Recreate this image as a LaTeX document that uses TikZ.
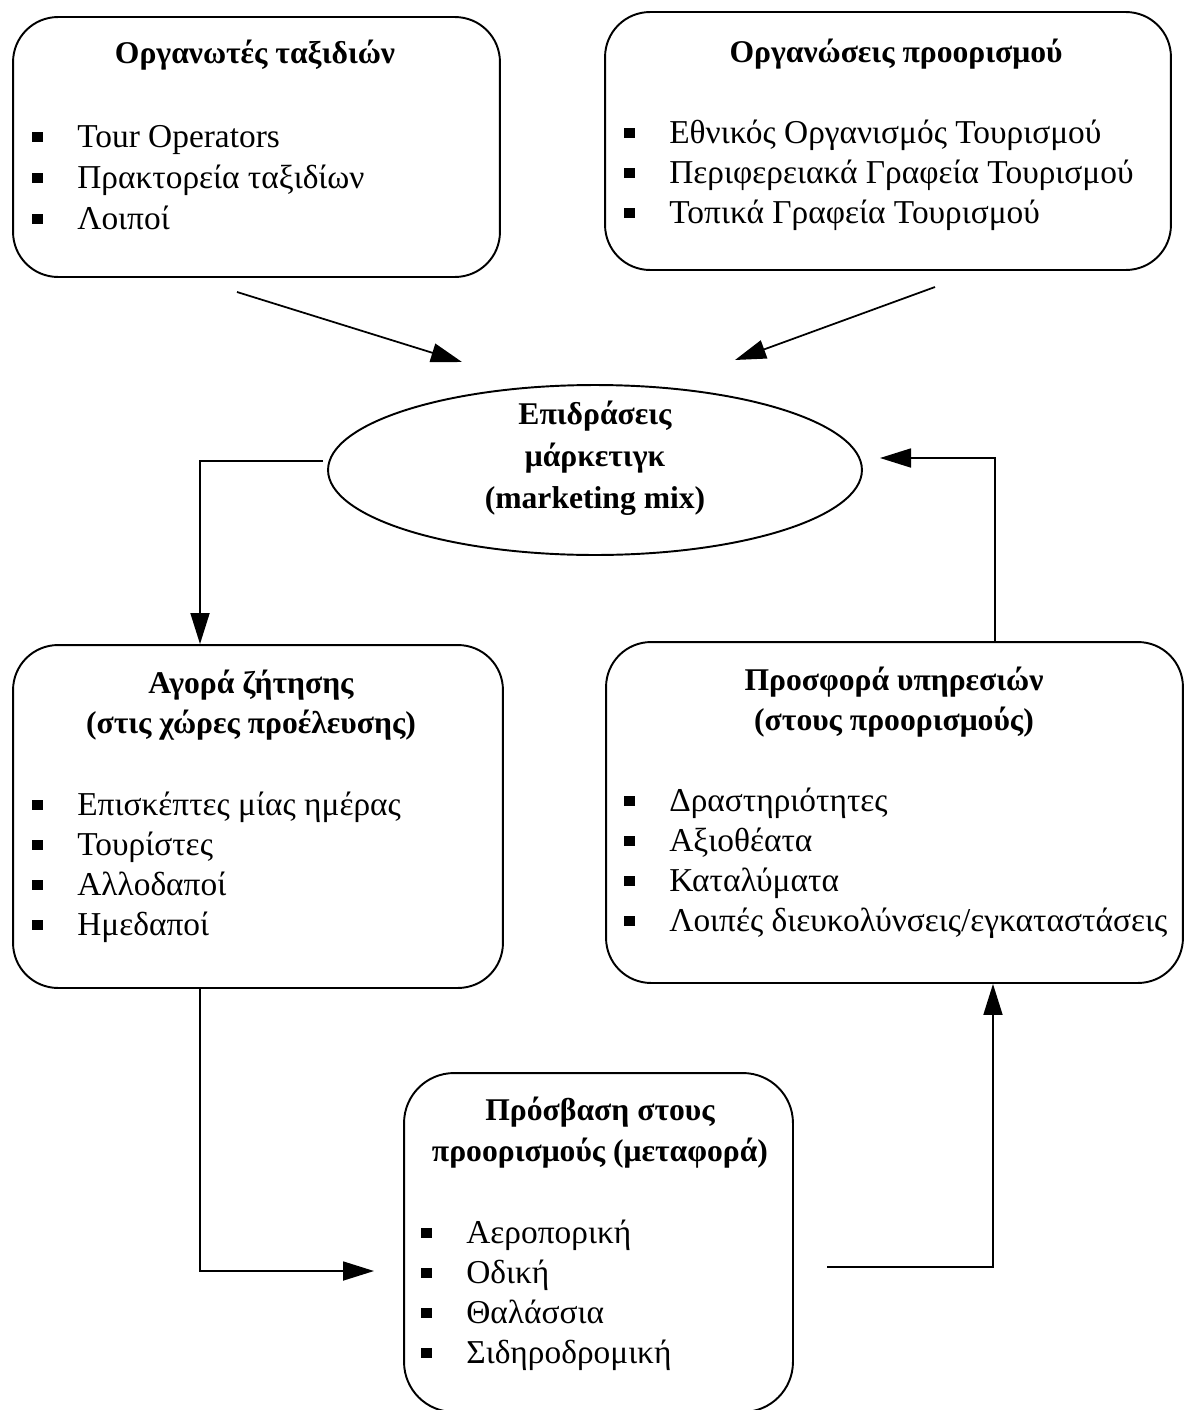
\documentclass[tikz,border=0pt]{standalone}
\usepackage{fontspec}
\setmainfont{Liberation Serif}
\usetikzlibrary{shapes.geometric,arrows.meta,positioning,calc}

\newcommand{\sqbul}{\rule[0.1cm]{0.21cm}{0.21cm}}

\begin{document}
\begin{tikzpicture}[x=0.02cm, y=-0.02cm,
    box/.style={rectangle, draw, line width=1.1pt, rounded corners=0.9cm, inner sep=0pt},
    hdr/.style={font=\fontsize{18}{22}\selectfont\bfseries, anchor=base, inner sep=0pt},
    itm/.style={font=\fontsize{19}{23}\selectfont, anchor=base west, inner sep=0pt},
    arr/.style={-{Triangle[length=0.62cm,width=0.38cm]}, line width=1pt}
]
\useasboundingbox (0,0) rectangle (1184,1410);

% --- Top left: tour organisers ---
\node[box, minimum width=9.74cm, minimum height=5.2cm] (org) at (256.5,147) {};
\node[hdr] (orgt) at (255,63) {Οργανωτές ταξιδιών};
\foreach \t [count=\i from 0] in {Tour Operators, Πρακτορεία ταξιδίων, Λοιποί}
  \node[itm] (org\i) at (32,147+41*\i) {\makebox[0.9cm][l]{\sqbul}\t};

% --- Top right: destination organisations ---
\node[box, minimum width=11.32cm, minimum height=5.16cm] (dst) at (888,141) {};
\node[hdr] (dstt) at (896,62) {Οργανώσεις προορισμού};
\foreach \t [count=\i from 0] in {Εθνικός Οργανισμός Τουρισμού, Περιφερειακά Γραφεία Τουρισμού, Τοπικά Γραφεία Τουρισμού}
  \node[itm] (dst\i) at (624,143+40*\i) {\makebox[0.9cm][l]{\sqbul}\t};

% --- Centre: marketing mix ---
\node[draw, ellipse, line width=1.1pt, inner sep=0pt, minimum width=10.68cm, minimum height=3.4cm] (mix) at (595,470) {};
\node[hdr] (mix1) at (595,424) {Επιδράσεις};
\node[hdr] (mix2) at (595,466) {μάρκετιγκ};
\node[hdr] (mix3) at (595,508) {(marketing mix)};

% --- Middle left: demand ---
\node[box, minimum width=9.8cm, minimum height=6.86cm] (dem) at (258,816.5) {};
\node[hdr] (demt) at (251,693) {Αγορά ζήτησης};
\node[hdr] (dems) at (251,733) {(στις χώρες προέλευσης)};
\foreach \t [count=\i from 0] in {Επισκέπτες μίας ημέρας, Τουρίστες, Αλλοδαποί, Ημεδαποί}
  \node[itm] (dem\i) at (32,815+40*\i) {\makebox[0.9cm][l]{\sqbul}\t};

% --- Middle right: supply ---
\node[box, minimum width=11.54cm, minimum height=6.82cm] (sup) at (894.5,812.5) {};
\node[hdr] (supt) at (894,690) {Προσφορά υπηρεσιών};
\node[hdr] (sups) at (894,730) {(στους προορισμούς)};
\foreach \t [count=\i from 0] in {Δραστηριότητες, Αξιοθέατα, Καταλύματα, Λοιπές διευκολύνσεις/εγκαταστάσεις}
  \node[itm] (sup\i) at (624,811+40*\i) {\makebox[0.9cm][l]{\sqbul}\t};

% --- Bottom: access ---
\node[box, rounded corners=1cm, minimum width=7.78cm, minimum height=6.78cm] (acc) at (598.5,1242.5) {};
\node[hdr] (acct) at (600,1120) {Πρόσβαση στους};
\node[hdr] (accs) at (600,1161) {προορισμούς (μεταφορά)};
\foreach \t [count=\i from 0] in {Αεροπορική, Οδική, Θαλάσσια, Σιδηροδρομική}
  \node[itm] (acc\i) at (421,1243+40*\i) {\makebox[0.9cm][l]{\sqbul}\t};

% --- Connectors ---
\coordinate (a1) at (237,292);
\coordinate (b1) at (462,362);
\coordinate (a2) at (935,287);
\coordinate (b2) at (735,360);
\coordinate (a3) at (323,461);
\coordinate (b4) at (880,458);
\coordinate (b5) at (374,1271);
\coordinate (a6) at (827,1267);
\draw[arr] (a1) -- (b1);
\draw[arr] (a2) -- (b2);
\draw[arr] (a3) -| ([xshift=-1.16cm]dem.north);
\draw[arr] ([xshift=2.01cm]sup.north) |- (b4);
\draw[arr] ([xshift=-1.16cm]dem.south) |- (b5);
\draw[arr] (a6) -| ([xshift=1.97cm]sup.south);
\end{tikzpicture}
\end{document}
